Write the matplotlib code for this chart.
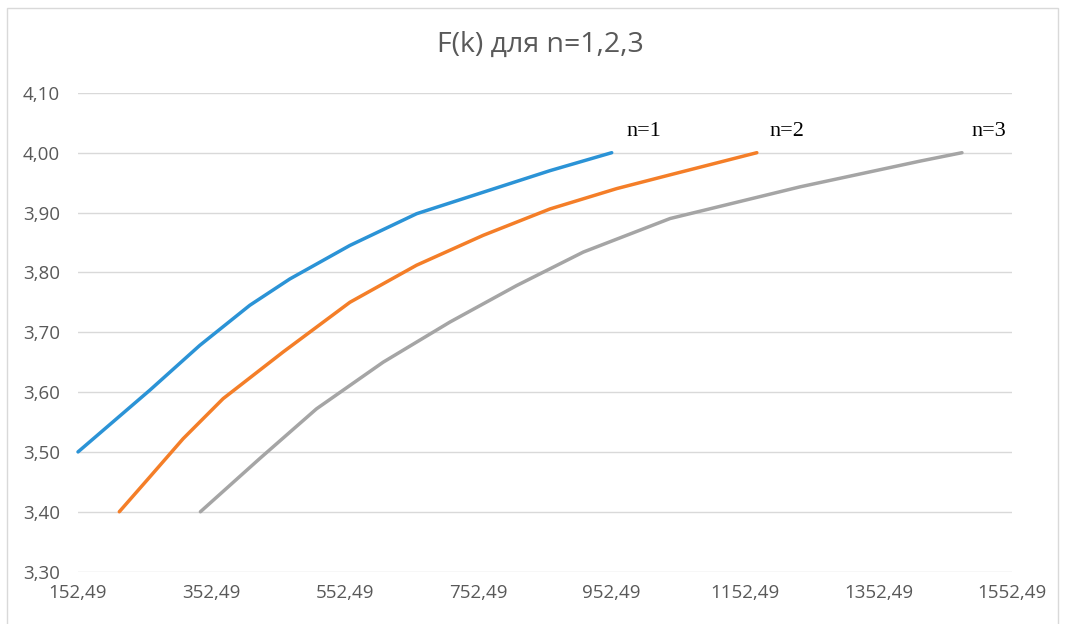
import matplotlib
matplotlib.use("Agg")
import matplotlib.pyplot as plt
from matplotlib.patches import Rectangle

# values
k_n1 = [152.49, 260, 335, 410, 470, 560, 660, 760, 860, 952.49]
f_n1 = [3.50, 3.603, 3.678, 3.745, 3.789, 3.845, 3.898, 3.934, 3.970, 4.00]

k_n2 = [214.4, 260, 310, 370, 460, 560, 660, 760, 860, 960, 1040, 1170]
f_n2 = [3.40, 3.458, 3.522, 3.589, 3.667, 3.750, 3.812, 3.862, 3.906, 3.940, 3.963, 4.00]

k_n3 = [336, 425, 510, 610, 710, 810, 910, 1040, 1235, 1415, 1477.5]
f_n3 = [3.40, 3.489, 3.572, 3.650, 3.717, 3.778, 3.834, 3.890, 3.943, 3.986, 4.00]

series_names = ["n=1", "n=2", "n=3"]
x_ticks = [152.49, 352.49, 552.49, 752.49, 952.49, 1152.49, 1352.49, 1552.49]
y_ticks = [3.30, 3.40, 3.50, 3.60, 3.70, 3.80, 3.90, 4.00, 4.10]
title = "F(k) для n=1,2,3"

colors = ["#2b93d6", "#f47e28", "#a5a5a5"]
txt = "#595959"

fig = plt.figure(figsize=(10.65, 6.24), dpi=100)
ax = fig.add_axes([78/1065, 1 - 571.6/624, (1012 - 78)/1065, (571.6 - 92.85)/624])

series = [(k_n1, f_n1), (k_n2, f_n2), (k_n3, f_n3)]
offsets = [(23, 15), (22, 15), (19, 15)]
for (k, f), c, name, off in zip(series, colors, series_names, offsets):
    ax.plot(k, f, color=c, lw=2.5, solid_capstyle="round", solid_joinstyle="round",
            clip_on=False, zorder=3)
    ax.annotate(name, (k[-1], f[-1]), xytext=off, textcoords="offset points",
                ha="center", va="center", fontsize=16, family="Liberation Serif",
                color="black")

ax.set_xlim(x_ticks[0], x_ticks[-1])
ax.set_ylim(y_ticks[0], y_ticks[-1])
ax.set_xticks(x_ticks)
ax.set_xticklabels([f"{v:.2f}".replace(".", ",") for v in x_ticks])
ax.set_yticks(y_ticks)
ax.set_yticklabels([f"{v:.2f}".replace(".", ",") for v in y_ticks])
ax.tick_params(length=0, colors=txt, labelsize=13.5)
ax.tick_params(axis="x", pad=9)
ax.tick_params(axis="y", pad=13)
for lab in ax.get_xticklabels() + ax.get_yticklabels():
    lab.set_family("Open Sans")

ax.grid(axis="y", color="#d9d9d9", lw=1)
ax.set_axisbelow(True)
for s in ax.spines.values():
    s.set_visible(False)

fig.text(540/1065, 1 - 45/624, title, ha="center", va="center", fontsize=20.5,
         color=txt, family=["Open Sans", "DejaVu Sans"])

fig.patches.append(Rectangle((7/1065, -0.05), (1058 - 7)/1065, 1.05 - 8/624,
                             transform=fig.transFigure, fill=False,
                             edgecolor="#d9d9d9", lw=1))

fig.savefig("out.png", dpi=100, facecolor="white")
